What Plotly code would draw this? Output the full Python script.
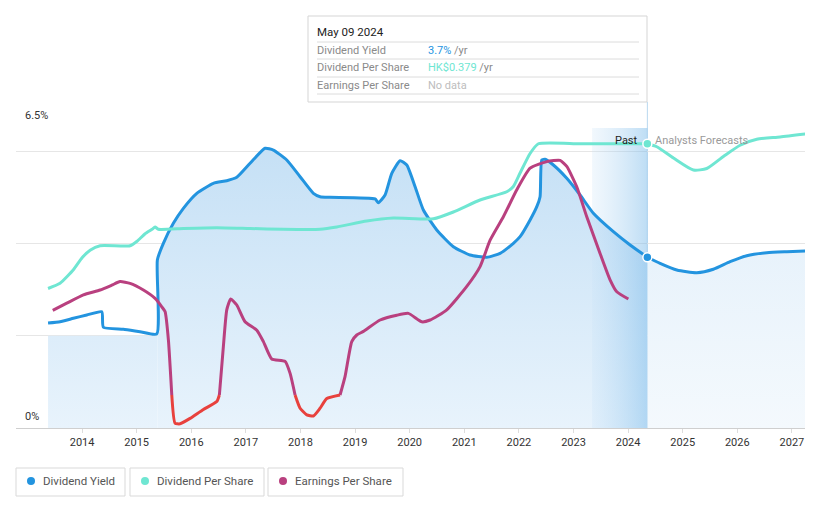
import plotly.graph_objects as go

# ---------------- data ----------------
# Dividend yield (%), past
yield_t = [2013.377, 2013.597, 2013.841, 2014.086, 2014.361, 2014.390, 2014.756, 2015.062, 2015.368,
           2015.379, 2015.489, 2015.672, 2015.855, 2016.101, 2016.405, 2016.650, 2016.833, 2017.077,
           2017.352, 2017.504, 2017.749, 2017.993, 2018.236, 2018.359, 2018.542, 2019.366, 2019.427,
           2019.549, 2019.672, 2019.824, 2019.947, 2020.099, 2020.251, 2020.496, 2020.800, 2021.106,
           2021.412, 2021.656, 2021.899, 2022.022, 2022.205, 2022.328, 2022.388, 2022.419, 2022.480,
           2022.632, 2022.877, 2023.121, 2023.364, 2023.731, 2024.037, 2024.353]
yield_v = [2.275, 2.303, 2.377, 2.448, 2.520, 2.182, 2.139, 2.087, 2.037,
           3.640, 4.002, 4.435, 4.760, 5.085, 5.302, 5.358, 5.432, 5.735,
           6.060, 6.023, 5.807, 5.445, 5.085, 5.012, 4.998, 4.962, 4.882,
           5.048, 5.518, 5.792, 5.698, 5.228, 4.723, 4.290, 3.928, 3.748,
           3.698, 3.785, 4.002, 4.145, 4.507, 4.795, 5.012, 5.807, 5.822,
           5.698, 5.410, 5.048, 4.652, 4.253, 3.965, 3.700]
# Dividend yield (%), analysts forecast
fc_yield_t = [2024.353, 2024.586, 2024.892, 2025.258, 2025.562, 2025.868, 2026.174, 2026.540, 2026.907, 2027.242]
fc_yield_v = [3.700, 3.568, 3.423, 3.365, 3.439, 3.603, 3.733, 3.798, 3.820, 3.835]

# Dividend per share (HK$), past
dps_t = [2013.377, 2013.597, 2013.841, 2014.000, 2014.147, 2014.330, 2014.879, 2015.007, 2015.154,
         2015.282, 2015.337, 2015.397, 2015.855, 2016.467, 2017.077, 2017.687, 2018.359, 2018.665,
         2019.214, 2019.701, 2020.434, 2020.800, 2021.289, 2021.778, 2021.899, 2022.022, 2022.205,
         2022.357, 2023.121, 2024.353]
dps_v = [0.186, 0.193, 0.211, 0.227, 0.237, 0.243, 0.243, 0.249, 0.259,
         0.265, 0.268, 0.265, 0.266, 0.267, 0.266, 0.265, 0.265, 0.268,
         0.276, 0.280, 0.279, 0.288, 0.304, 0.315, 0.322, 0.340, 0.366,
         0.379, 0.379, 0.379]
# Dividend per share (HK$), analysts forecast
fc_dps_t = [2024.353, 2024.526, 2024.830, 2025.196, 2025.441, 2025.745, 2026.051, 2026.357, 2026.784, 2027.242]
fc_dps_v = [0.379, 0.375, 0.360, 0.344, 0.346, 0.362, 0.377, 0.385, 0.388, 0.392]

# Earnings per share (HK$)
eps_t = [2013.463, 2013.720, 2014.024, 2014.330, 2014.544, 2014.696, 2014.879, 2015.123, 2015.337,
         2015.460, 2015.520, 2015.581, 2015.643, 2015.703, 2015.795, 2015.978, 2016.222, 2016.467,
         2016.515, 2016.588, 2016.650, 2016.723, 2016.833, 2016.985, 2017.200, 2017.321, 2017.474,
         2017.718, 2017.810, 2017.901, 2017.993, 2018.115, 2018.236, 2018.359, 2018.482, 2018.725,
         2018.817, 2018.939, 2019.031, 2019.152, 2019.458, 2019.764, 2019.976, 2020.222, 2020.374,
         2020.679, 2021.046, 2021.289, 2021.473, 2021.716, 2021.962, 2022.205, 2022.511, 2022.755,
         2022.877, 2023.060, 2023.243, 2023.487, 2023.670, 2023.793, 2024.005]
eps_v = [0.141, 0.153, 0.167, 0.175, 0.183, 0.189, 0.186, 0.175, 0.161,
         0.147, 0.139, 0.092, 0.000, -0.047, -0.048, -0.039, -0.024, -0.011,
         0.000, 0.081, 0.142, 0.160, 0.150, 0.122, 0.108, 0.089, 0.060,
         0.056, 0.036, 0.000, -0.022, -0.033, -0.035, -0.022, -0.006, 0.000,
         0.031, 0.089, 0.100, 0.106, 0.125, 0.133, 0.136, 0.122, 0.125,
         0.142, 0.181, 0.214, 0.258, 0.297, 0.342, 0.378, 0.389, 0.391,
         0.381, 0.347, 0.297, 0.236, 0.192, 0.172, 0.160]

years = list(range(2014, 2028))
year_labels = [str(y) for y in years]

hover_t = 2024.353
past_band = [2023.341, 2024.353]

BLUE = "#2394df"
TEAL = "#6fe6d2"
MAG = "#b9407f"
RED = "#e8413d"
FONT = "Roboto"

# ---------------- layout helpers ----------------
W, H = 821, 508
L, R, T, B = 16, 805, 128, 428


def px(x):
    return (x - L) / (R - L)


def py(y):
    return (B - y) / (B - T)


fig = go.Figure()

# left low fill
fig.add_trace(go.Scatter(
    x=[yield_t[0], yield_t[9]], y=[2.0, 2.0], mode="lines", line=dict(width=0),
    fill="tozeroy", fillgradient=dict(type="vertical", start=0, stop=6.5,
                                      colorscale=[[0, "#e8f3fc"], [1, "#c3dff5"]]),
    hoverinfo="skip", showlegend=False))

# past fill under yield
fig.add_trace(go.Scatter(
    x=yield_t[9:], y=yield_v[9:], mode="lines", line=dict(width=0, shape="spline", smoothing=0.5),
    fill="tozeroy", fillgradient=dict(type="vertical", start=0, stop=6.5,
                                      colorscale=[[0, "#e8f3fc"], [1, "#c3dff5"]]),
    hoverinfo="skip", showlegend=False))

# forecast fill
fig.add_trace(go.Scatter(
    x=fc_yield_t, y=fc_yield_v, mode="lines", line=dict(width=0, shape="spline", smoothing=0.5),
    fill="tozeroy", fillgradient=dict(type="vertical", start=0, stop=6.5,
                                      colorscale=[[0, "#f4f9fd"], [1, "#dfeefa"]]),
    hoverinfo="skip", showlegend=False))

# past band
fig.add_trace(go.Scatter(
    x=[past_band[0], past_band[1], past_band[1], past_band[0], past_band[0]],
    y=[0, 0, 6.5, 6.5, 0], mode="lines", line=dict(width=0),
    fill="toself", fillgradient=dict(type="horizontal",
                                     colorscale=[[0, "rgba(200,226,247,0.25)"], [1, "rgba(110,180,232,0.45)"]]),
    hoverinfo="skip", showlegend=False))

# DPS lines
fig.add_trace(go.Scatter(x=dps_t, y=dps_v, yaxis="y2", mode="lines",
                         line=dict(color=TEAL, width=3, shape="spline", smoothing=0.5),
                         hoverinfo="skip", showlegend=False))
fig.add_trace(go.Scatter(x=fc_dps_t, y=fc_dps_v, yaxis="y2", mode="lines",
                         line=dict(color=TEAL, width=3, shape="spline", smoothing=0.6),
                         hoverinfo="skip", showlegend=False))

# EPS lines, red where negative
eps_pos = [v if v >= 0 else None for v in eps_v]
eps_neg = [v if v <= 0 else None for v in eps_v]
fig.add_trace(go.Scatter(x=eps_t, y=eps_pos, yaxis="y3", mode="lines", connectgaps=False,
                         line=dict(color=MAG, width=3, shape="spline", smoothing=0.5),
                         hoverinfo="skip", showlegend=False))
fig.add_trace(go.Scatter(x=eps_t, y=eps_neg, yaxis="y3", mode="lines", connectgaps=False,
                         line=dict(color=RED, width=3, shape="spline", smoothing=0.5),
                         hoverinfo="skip", showlegend=False))

# Yield lines
fig.add_trace(go.Scatter(x=yield_t, y=yield_v, mode="lines",
                         line=dict(color=BLUE, width=3, shape="spline", smoothing=0.5),
                         hoverinfo="skip", showlegend=False))
fig.add_trace(go.Scatter(x=fc_yield_t, y=fc_yield_v, mode="lines",
                         line=dict(color=BLUE, width=3, shape="spline", smoothing=0.6),
                         hoverinfo="skip", showlegend=False))

# hover markers
fig.add_trace(go.Scatter(x=[hover_t], y=[yield_v[-1]], mode="markers",
                         marker=dict(color=BLUE, size=9, line=dict(color="white", width=1.5)),
                         hoverinfo="skip", showlegend=False))
fig.add_trace(go.Scatter(x=[hover_t], y=[dps_v[-1]], yaxis="y2", mode="markers",
                         marker=dict(color=TEAL, size=9, line=dict(color="white", width=1.5)),
                         hoverinfo="skip", showlegend=False))

shapes = []
annotations = []

# hover vertical line (below traces inside plot, continues up to tooltip)
shapes.append(dict(type="line", xref="x", yref="paper", x0=hover_t, x1=hover_t, layer="below",
                   y0=0, y1=py(102), line=dict(color="#b9d8ef", width=1)))

# tooltip box
shapes.append(dict(type="rect", xref="paper", yref="paper", x0=px(308), x1=px(647),
                   y0=py(102), y1=py(16), line=dict(color="#d5d5d5", width=1), fillcolor="white"))
for yy in [42, 59, 77, 94]:
    shapes.append(dict(type="line", xref="paper", yref="paper", x0=px(317), x1=px(639),
                       y0=py(yy), y1=py(yy), line=dict(color="#dcdcdc", width=1)))
annotations.append(dict(xref="paper", yref="paper", x=px(315), y=py(32), text="May 09 2024",
                        showarrow=False, xanchor="left", yanchor="middle",
                        font=dict(family=FONT, size=11.5, color="#222")))
rows = [("Dividend Yield", f"<span style='color:{BLUE}'>3.7%</span> /yr", 50),
        ("Dividend Per Share", f"<span style='color:{TEAL}'>HK$0.379</span> /yr", 67),
        ("Earnings Per Share", "<span style='color:#bdbdbd'>No data</span>", 85)]
for lab, val, yy in rows:
    annotations.append(dict(xref="paper", yref="paper", x=px(315), y=py(yy), text=lab,
                            showarrow=False, xanchor="left", yanchor="middle",
                            font=dict(family=FONT, size=11, color="#8a8a8a")))
    annotations.append(dict(xref="paper", yref="paper", x=px(426), y=py(yy), text=val,
                            showarrow=False, xanchor="left", yanchor="middle",
                            font=dict(family=FONT, size=11, color="#8a8a8a")))

# Past / Analysts Forecasts labels
annotations.append(dict(xref="paper", yref="paper", x=px(640), y=py(140), text="Past",
                        showarrow=False, xanchor="right", yanchor="middle",
                        font=dict(family=FONT, size=11, color="#222")))
annotations.append(dict(xref="paper", yref="paper", x=px(653), y=py(140), text="Analysts Forecasts",
                        showarrow=False, xanchor="left", yanchor="middle",
                        font=dict(family=FONT, size=11, color="#9a9a9a")))

# y labels
annotations.append(dict(xref="paper", yref="paper", x=px(23), y=py(116), text="6.5%",
                        showarrow=False, xanchor="left", yanchor="middle",
                        font=dict(family=FONT, size=11, color="#333")))
annotations.append(dict(xref="paper", yref="paper", x=px(23), y=py(416), text="0%",
                        showarrow=False, xanchor="left", yanchor="middle",
                        font=dict(family=FONT, size=11, color="#333")))

# legend boxes
legend = [("Dividend Yield", BLUE, 16, 125), ("Dividend Per Share", TEAL, 130, 264),
          ("Earnings Per Share", MAG, 268, 403)]
for name, col, x0, x1 in legend:
    shapes.append(dict(type="rect", xref="paper", yref="paper", x0=px(x0), x1=px(x1),
                       y0=py(496), y1=py(468), line=dict(color="#d9d9d9", width=1), fillcolor="white"))
    shapes.append(dict(type="circle", xref="paper", yref="paper", x0=px(x0 + 11), x1=px(x0 + 19),
                       y0=py(485), y1=py(477), line=dict(width=0), fillcolor=col))
    annotations.append(dict(xref="paper", yref="paper", x=px(x0 + 25), y=py(481), text=name,
                            showarrow=False, xanchor="left", yanchor="middle",
                            font=dict(family=FONT, size=11.5, color="#555")))

fig.update_layout(
    width=W, height=H,
    margin=dict(l=L, r=W - R, t=T, b=H - B),
    paper_bgcolor="white", plot_bgcolor="white",
    showlegend=False,
    font=dict(family=FONT, size=11, color="#333"),
    xaxis=dict(range=[2012.79, 2027.24], tickvals=years, ticktext=year_labels,
               showgrid=False, zeroline=False, showline=True, linecolor="#cfcfcf", linewidth=1,
               ticks="outside", ticklen=4, tickcolor="#dddddd",
               tickfont=dict(family=FONT, size=11, color="#333")),
    yaxis=dict(range=[0, 6.5], tickvals=[2, 4, 6, 6.5], showticklabels=False,
               showgrid=True, gridcolor="#e6e6e6", zeroline=False, fixedrange=True),
    yaxis2=dict(range=[0, 0.4], overlaying="y", visible=False),
    yaxis3=dict(range=[-0.055, 0.445], overlaying="y", visible=False),
    shapes=shapes, annotations=annotations,
)

fig.write_html("out.html", config={"displayModeBar": False},
               post_script="document.body.style.margin='0';document.body.style.overflow='hidden';")
